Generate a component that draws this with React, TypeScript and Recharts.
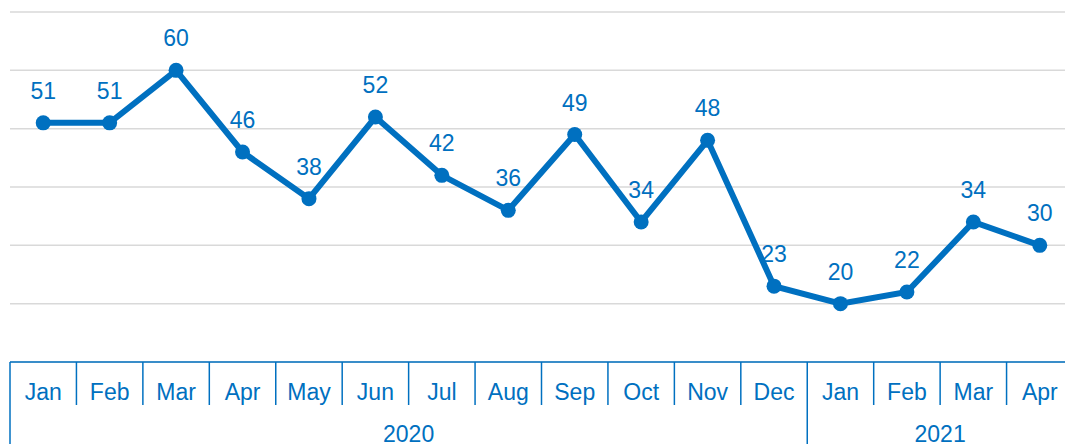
import React from 'react';
import { LineChart, Line, XAxis, YAxis, CartesianGrid, LabelList } from 'recharts';

const months = ['Jan', 'Feb', 'Mar', 'Apr', 'May', 'Jun', 'Jul', 'Aug', 'Sep', 'Oct', 'Nov', 'Dec', 'Jan', 'Feb', 'Mar', 'Apr'];
const years = ['2020', '2020', '2020', '2020', '2020', '2020', '2020', '2020', '2020', '2020', '2020', '2020', '2021', '2021', '2021', '2021'];
const values = [51, 51, 60, 46, 38, 52, 42, 36, 49, 34, 48, 23, 20, 22, 34, 30];
const yTicks = [10, 20, 30, 40, 50, 60, 70];

const data = months.map((m, i) => ({ key: `${years[i]}-${m}-${i}`, value: values[i] }));

const BLUE = '#0070C0';
const FONT = '"Liberation Sans", Arial, sans-serif';
const CHART_W = 1073;
const CHART_H = 444;
const MARGIN = { top: 12, right: 0, left: 10, bottom: 0 };
const AXIS_H = 82;
const PLOT_W = CHART_W - MARGIN.left - MARGIN.right;
const PLOT_BOTTOM = CHART_H - MARGIN.bottom - AXIS_H;
const BAND = PLOT_W / months.length;

const MonthTick = (props: any) => {
  const { x, payload } = props;
  const i = payload.index;
  const left = x - BAND / 2;
  const isYearStart = i === 0 || years[i] !== years[i - 1];
  let count = 0;
  if (isYearStart) {
    for (let j = i; j < years.length && years[j] === years[i]; j++) count++;
  }
  return (
    <g>
      <line x1={left} x2={left} y1={PLOT_BOTTOM} y2={isYearStart ? CHART_H : PLOT_BOTTOM + 43} stroke={BLUE} strokeWidth={1.5} />
      <text x={x} y={PLOT_BOTTOM + 38} textAnchor="middle" fill={BLUE} fontSize={23} fontFamily={FONT}>
        {months[i]}
      </text>
      {isYearStart && (
        <text x={left + (count * BAND) / 2} y={PLOT_BOTTOM + 80} textAnchor="middle" fill={BLUE} fontSize={23} fontFamily={FONT}>
          {years[i]}
        </text>
      )}
    </g>
  );
};

const ValueLabel = (props: any) => {
  const { x, y, value } = props;
  return (
    <text x={x} y={y - 24} textAnchor="middle" fill={BLUE} fontSize={23} fontFamily={FONT}>
      {value}
    </text>
  );
};

export default function App() {
  return (
    <div style={{ position: 'fixed', left: 0, top: 0, width: 1065, height: 444, overflow: 'hidden', background: '#fff' }}>
      <LineChart width={CHART_W} height={CHART_H} data={data} margin={MARGIN}>
        <CartesianGrid horizontal vertical={false} stroke="#d9d9d9" strokeWidth={1.5} />
        <YAxis hide domain={[10, 70]} ticks={yTicks} type="number" />
        <XAxis
          dataKey="key"
          scale="band"
          interval={0}
          height={AXIS_H}
          tickLine={false}
          axisLine={{ stroke: BLUE, strokeWidth: 1.5 }}
          tick={<MonthTick />}
        />
        <Line
          type="linear"
          dataKey="value"
          stroke={BLUE}
          strokeWidth={6}
          dot={{ r: 7.5, fill: BLUE, stroke: 'none' }}
          activeDot={false}
          isAnimationActive={false}
        >
          <LabelList dataKey="value" content={<ValueLabel />} />
        </Line>
      </LineChart>
    </div>
  );
}
